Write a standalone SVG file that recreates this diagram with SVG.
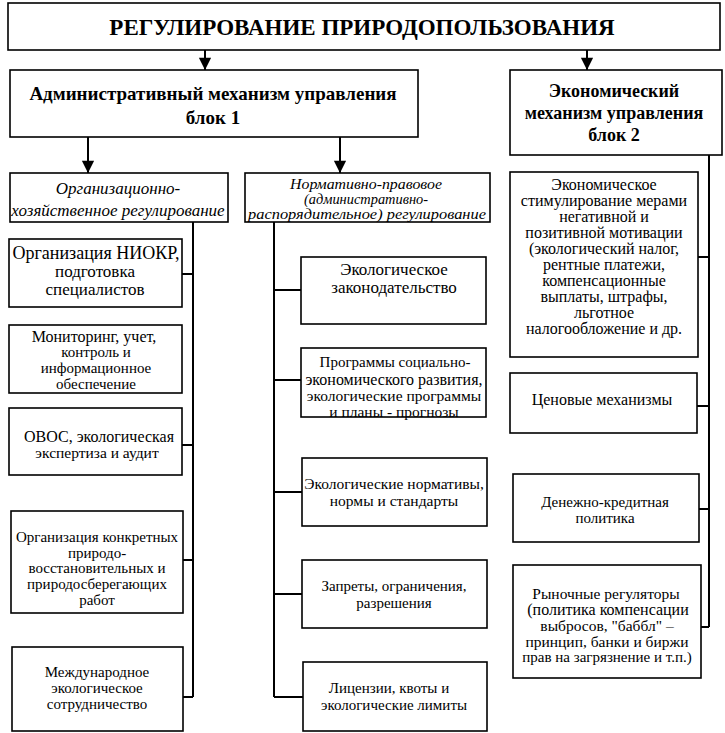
<svg xmlns="http://www.w3.org/2000/svg" width="725" height="733" viewBox="0 0 725 733">
<style>
rect{fill:#fff;stroke:#000;stroke-width:1.6}
text{font-family:'Liberation Serif','Times New Roman',serif;fill:#000;text-anchor:middle;dominant-baseline:central}
.t{font-size:23px;font-weight:bold}
.h{font-size:19px;font-weight:bold}
.h2{font-size:18px;font-weight:bold}
.i{font-size:17px;font-style:italic}
.is{font-size:15px;font-style:italic}
.b{font-size:15px}
.b5{font-size:15.5px}
.b7{font-size:17px}
.bl{font-size:16px}
.c line,.c path{stroke:#000;stroke-width:2;fill:none}
</style>
<defs>
<marker id="ah" viewBox="0 0 14 16" refX="14" refY="7" markerWidth="16" markerHeight="14" markerUnits="userSpaceOnUse" orient="auto">
<path d="M0,0 L14,7 L0,14 Z" fill="#000"/>
</marker>
</defs>
<g id="title"><rect x="8" y="3" width="712" height="47"/><text class="t" x="362" y="27">РЕГУЛИРОВАНИЕ ПРИРОДОПОЛЬЗОВАНИЯ</text></g>
<g id="admin"><rect x="10" y="70" width="408" height="67"/><text class="h" x="213" y="93">Административный механизм управления</text><text class="h" x="213" y="117">блок 1</text></g>
<g id="econ"><rect x="510" y="70" width="212" height="85"/><text class="h2" x="614" y="91">Экономический</text><text class="h2" x="614" y="113">механизм управления</text><text class="h2" x="614" y="135">блок 2</text></g>
<g id="org"><rect x="10" y="173" width="218" height="49"/><text class="i" x="118" y="188">Организационно-</text><text class="i" x="118" y="210">хозяйственное регулирование</text></g>
<g id="norm"><rect x="245" y="173" width="245" height="49"/><text class="is" x="366" y="184" textLength="152" lengthAdjust="spacingAndGlyphs">Нормативно-правовое</text><text class="is" x="366" y="199" textLength="124" lengthAdjust="spacingAndGlyphs">(административно-</text><text class="is" x="367" y="214" textLength="238" lengthAdjust="spacingAndGlyphs">распорядительное) регулирование</text></g>
<g id="l1"><rect x="9" y="239" width="173" height="68"/><text class="h2" style="font-weight:normal" x="96" y="253">Организация НИОКР,</text><text class="b7" x="95" y="271">подготовка</text><text class="b7" x="95" y="289">специалистов</text></g>
<g id="l2"><rect x="9" y="325" width="173" height="68"/><text class="bl" x="94" y="336">Мониторинг, учет,</text><text class="b" x="96" y="352">контроль и</text><text class="b" x="96" y="368">информационное</text><text class="b" x="96" y="384">обеспечение</text></g>
<g id="l3"><rect x="9" y="408" width="173" height="67"/><text class="bl" x="99" y="436">ОВОС, экологическая</text><text class="b5" x="97" y="452">экспертиза и аудит</text></g>
<g id="l4"><rect x="11" y="511" width="172" height="102"/><text class="b" x="97" y="537">Организация конкретных</text><text class="b" x="97" y="553">природо-</text><text class="b" x="97" y="568">восстановительных и</text><text class="b" x="97" y="584">природосберегающих</text><text class="b" x="97" y="600">работ</text></g>
<g id="l5"><rect x="12" y="647" width="171" height="84"/><text class="b" x="97" y="672">Международное</text><text class="b" x="97" y="688">экологическое</text><text class="b" x="97" y="704">сотрудничество</text></g>
<g id="m1"><rect x="301" y="257" width="185" height="67"/><text class="b7" x="394" y="269">Экологическое</text><text class="b7" x="394" y="287">законодательство</text></g>
<g id="m2"><rect x="301" y="348" width="185" height="69"/><text class="b" x="395" y="362">Программы социально-</text><text class="bl" x="394" y="379">экономического развития,</text><text class="b5" x="394" y="395">экологические программы</text><text class="b5" x="394" y="411">и планы - прогнозы</text></g>
<g id="m3"><rect x="302" y="458" width="185" height="68"/><text class="b5" x="394" y="483">Экологические нормативы,</text><text class="b5" x="394" y="500">нормы и стандарты</text></g>
<g id="m4"><rect x="302" y="560" width="185" height="68"/><text class="b" x="394" y="586">Запреты, ограничения,</text><text class="b" x="394" y="603">разрешения</text></g>
<g id="m5"><rect x="303" y="662" width="184" height="69"/><text class="b" x="389" y="688">Лицензии, квоты и</text><text class="b" x="394" y="705">экологические лимиты</text></g>
<g id="r1"><rect x="510" y="172" width="188" height="185"/><text class="bl" x="604" y="184">Экономическое</text><text class="bl" x="604" y="200">стимулирование мерами</text><text class="bl" x="604" y="216">негативной и</text><text class="bl" x="604" y="232">позитивной мотивации</text><text class="bl" x="604" y="248">(экологический налог,</text><text class="bl" x="604" y="264">рентные платежи,</text><text class="bl" x="604" y="280">компенсационные</text><text class="bl" x="604" y="296">выплаты, штрафы,</text><text class="bl" x="604" y="312">льготное</text><text class="bl" x="604" y="328">налогообложение и др.</text></g>
<g id="r2"><rect x="510" y="373" width="187" height="60"/><text class="bl" x="602" y="399">Ценовые механизмы</text></g>
<g id="r3"><rect x="513" y="474" width="186" height="68"/><text class="b" x="605" y="502">Денежно-кредитная</text><text class="b" x="605" y="518">политика</text></g>
<g id="r4"><rect x="513" y="565" width="188" height="113"/><text class="b5" x="606" y="593">Рыночные регуляторы</text><text class="bl" x="608" y="609">(политика компенсации</text><text class="b5" x="607" y="625">выбросов, "баббл" –</text><text class="b5" x="607" y="641">принцип, банки и биржи</text><text class="b" x="607" y="657">прав на загрязнение и т.п.)</text></g>
<g id="connectors" class="c">
<line x1="205" y1="50" x2="205" y2="70" marker-end="url(#ah)"/>
<line x1="587" y1="50" x2="587" y2="70" marker-end="url(#ah)"/>
<line x1="88" y1="137" x2="88" y2="173" marker-end="url(#ah)"/>
<line x1="340" y1="137" x2="340" y2="173" marker-end="url(#ah)"/>
<path d="M193,222 V697 M182,274 H193 M182,445 H193 M183,560 H193 M183,697 H193"/>
<path d="M274,222 V697 M274,290 H301 M274,380 H301 M274,492 H302 M274,594 H302 M274,697 H303"/>
<path d="M709,155 V627 M698,257 H709 M697,406 H709 M699,509 H709 M701,627 H709"/>
</g>
</svg>
